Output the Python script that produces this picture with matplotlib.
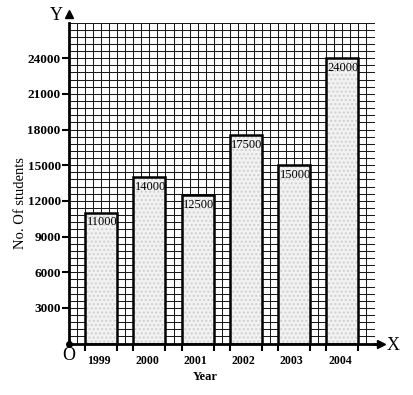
import numpy as np
import matplotlib.pyplot as plt

years = ["1999", "2000", "2001", "2002", "2003", "2004"]
students = [11000, 14000, 12500, 17500, 15000, 24000]
yticks = [3000, 6000, 9000, 12000, 15000, 18000, 21000, 24000]

plt.rcParams['font.family'] = ['Liberation Serif', 'DejaVu Serif']

fig = plt.figure(figsize=(4.14, 3.95), dpi=100)
ax = fig.add_axes([69/414, 1-343.6/395, (375-69)/414, (343.6-22.5)/395])

x = np.arange(len(years))
w = 4/6
x0 = -w/2 - 2/6
x1 = x0 + 38/6 + 0.01
ymax = 27000

# graph paper
for gx in np.arange(x0, x1, 1/6):
    ax.axvline(gx, color="#1a1a1a", lw=0.75, zorder=1)
for gy in np.arange(0, ymax + 1, 600):
    ax.axhline(gy, color="#1a1a1a", lw=0.75, zorder=1)

# stippled bars
ax.bar(x, students, width=w, color="#f2f2f2", edgecolor="none", zorder=2)
ax.bar(x, students, width=w, color="none", edgecolor="#d0d0d0", hatch="....", lw=0, zorder=3)
ax.bar(x, students, width=w, color="none", edgecolor="black", lw=1.8, zorder=4)

for xi, v in zip(x, students):
    ax.text(xi - w/2 + 0.03, v - 300, str(v), ha="left", va="top", fontsize=9, zorder=5)

ax.set_xlim(x0, x1)
ax.set_ylim(0, ymax)

ax.set_yticks(yticks)
ax.set_yticklabels([str(t) for t in yticks], fontweight="bold", fontsize=9.5)
edges = np.sort(np.concatenate([x - w/2, x + w/2]))
ax.set_xticks(edges)
ax.set_xticklabels([])
ax.tick_params(axis="y", length=5, width=1.5, pad=1)
ax.tick_params(axis="x", length=5, width=1.5)

for s in ["top", "right"]:
    ax.spines[s].set_visible(False)
for s in ["left", "bottom"]:
    ax.spines[s].set_linewidth(2)
    ax.spines[s].set_zorder(6)

for xi, yr in zip(x, years):
    ax.text(xi - 0.05, -0.035, yr, transform=ax.get_xaxis_transform(), ha="center", va="top",
            fontsize=8.5, fontweight="bold")

# axis arrows
ax.plot([1, 1.015], [0, 0], transform=ax.transAxes, color="black", lw=2, clip_on=False)
ax.plot([1.018], [0], transform=ax.transAxes, marker=">", color="black", ms=6, clip_on=False)
ax.plot([0], [1.025], transform=ax.transAxes, marker="^", color="black", ms=6, clip_on=False)
ax.plot([0], [0], transform=ax.transAxes, marker="o", color="black", ms=4, clip_on=False, zorder=7)

fig.text(393/414, 1-346/395, "X", ha="center", va="center", fontsize=13)
fig.text(56/414, 1-15/395, "Y", ha="center", va="center", fontsize=13)
fig.text(69/414, 1-355/395, "O", ha="center", va="center", fontsize=13)
fig.text(205/414, 1-377/395, "Year", ha="center", va="center", fontsize=9, fontweight="bold")
fig.text(21/414, 1-203/395, "No. Of students", ha="center", va="center", fontsize=10.5, rotation=90)

fig.savefig("out.png", dpi=100)
